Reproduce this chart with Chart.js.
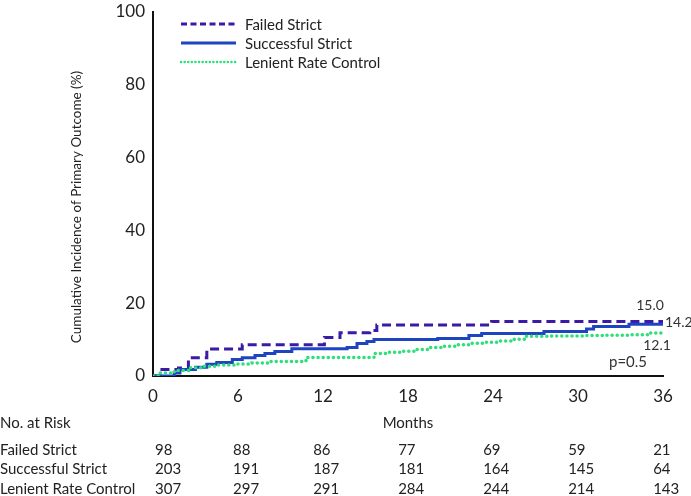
<!DOCTYPE html>
<html>
<head>
<meta charset="utf-8">
<script src="https://cdn.jsdelivr.net/npm/chart.js@4.4.0/dist/chart.umd.min.js"></script>
<style>
  html, body { margin: 0; padding: 0; background: #fff; }
  #wrap { width: 691px; height: 496px; }
</style>
</head>
<body>
<div id="wrap"><canvas id="km" width="691" height="496"></canvas></div>
<script>
"use strict";

// curve data (months, cumulative %)
const failedMonths = [0, 0.5, 1.8, 2.5, 3.8, 6.3, 12.1, 13.2, 15.3, 15.8, 23.9, 36];
const failedPct    = [0, 1.8, 2.2, 5.0, 7.4, 8.6, 10.6, 11.9, 12.5, 14.0, 15.0, 15.0];

const successMonths = [0, 1.5, 1.9, 3.0, 3.8, 4.5, 5.6, 6.3, 7.2, 7.9, 8.6, 9.8, 13.7, 14.4, 15.1, 15.6, 20.1, 22.3, 23.2, 27.6, 30.6, 31.1, 33.6, 36];
const successPct    = [0, 0.8, 1.8, 2.4, 3.2, 3.7, 4.5, 5.0, 5.6, 6.2, 6.7, 7.5, 7.8, 8.9, 9.5, 10.0, 10.3, 11.1, 11.7, 12.2, 12.9, 13.6, 14.2, 14.2];

const lenientMonths = [0, 0.5, 1.5, 2.5, 3.5, 4.5, 6.0, 7.0, 8.2, 10.8, 15.6, 16.5, 17.5, 18.5, 19.5, 20.5, 21.5, 22.5, 23.5, 24.5, 25.5, 26.3, 28.0, 30.6, 32.0, 33.8, 35.0, 36];
const lenientPct    = [0, 0.8, 1.5, 2.3, 2.7, 3.0, 3.3, 3.6, 4.0, 5.1, 6.2, 6.5, 6.8, 7.3, 7.8, 8.2, 8.6, 9.0, 9.3, 9.6, 10.1, 10.9, 11.0, 11.1, 11.2, 11.3, 11.8, 12.1];

const seriesNames = ["Failed Strict", "Successful Strict", "Lenient Rate Control"];
const endLabels = ["15.0", "14.2", "12.1"];
const pValue = "p=0.5";
const yTitle = "Cumulative Incidence of Primary Outcome (%)";

const riskMonths = [0, 6, 12, 18, 24, 30, 36];
const riskFailed  = [98, 88, 86, 77, 69, 59, 21];
const riskSuccess = [203, 191, 187, 181, 164, 145, 64];
const riskLenient = [307, 297, 291, 284, 244, 214, 143];

const colors = ["#3a1aa6", "#1f44c0", "#2fdf7c"];
const dashes = [[9, 5], [], [0.1, 5]];
const caps = ["butt", "butt", "round"];

const FONT = "Lato, 'Open Sans', sans-serif";
const TXT = "#222";

function pts(ms, ps) {
  return ms.map((m, i) => ({ x: m, y: ps[i] }));
}

const curves = [pts(failedMonths, failedPct), pts(successMonths, successPct), pts(lenientMonths, lenientPct)];

const extras = {
  id: "extras",
  afterDraw(chart) {
    const ctx = chart.ctx;
    const xs = chart.scales.x, ys = chart.scales.y;
    ctx.save();

    // y axis title, sits a bit below the middle of the axis in the original
    ctx.save();
    ctx.translate(77, 207);
    ctx.rotate(-Math.PI / 2);
    ctx.font = "13.5px " + FONT;
    ctx.fillStyle = TXT;
    ctx.textAlign = "center";
    ctx.textBaseline = "middle";
    ctx.fillText(yTitle, 0, 0);
    ctx.restore();

    // legend
    const legY = [24, 43, 62];
    ctx.font = "15px " + FONT;
    ctx.textBaseline = "middle";
    ctx.textAlign = "left";
    seriesNames.forEach((name, i) => {
      ctx.beginPath();
      ctx.strokeStyle = colors[i];
      ctx.lineWidth = i == 2 ? 2.5 : 3;
      ctx.lineCap = caps[i];
      ctx.setLineDash(i == 0 ? [6, 3.5] : (i == 2 ? [0.1, 3.5] : []));
      ctx.moveTo(181, legY[i]);
      ctx.lineTo(236, legY[i]);
      ctx.stroke();
      ctx.setLineDash([]);
      ctx.fillStyle = TXT;
      ctx.fillText(name, 245, legY[i] + 1);
    });

    // end-of-curve values and p value
    ctx.font = "14px " + FONT;
    ctx.fillStyle = "#333";
    const xEnd = xs.getPixelForValue(36);
    ctx.textAlign = "center";
    ctx.fillText(endLabels[0], xEnd - 13, ys.getPixelForValue(failedPct[failedPct.length - 1]) - 16);
    ctx.textAlign = "left";
    ctx.fillText(endLabels[1], xEnd + 2, ys.getPixelForValue(successPct[successPct.length - 1]) - 2);
    ctx.textAlign = "center";
    ctx.fillText(endLabels[2], xEnd - 6, ys.getPixelForValue(lenientPct[lenientPct.length - 1]) + 14);
    ctx.font = "15px " + FONT;
    ctx.fillText(pValue, xEnd - 35, ys.getPixelForValue(0) - 14);

    // number at risk table
    ctx.font = "15px " + FONT;
    ctx.fillStyle = TXT;
    ctx.textAlign = "left";
    ctx.fillText("No. at Risk", 0, 423);
    ctx.textAlign = "center";
    ctx.fillText("Months", xs.getPixelForValue(18), 423);

    const rows = [riskFailed, riskSuccess, riskLenient];
    const rowY = [450, 469, 489];
    rows.forEach((row, r) => {
      ctx.textAlign = "left";
      ctx.font = "15px " + FONT;
      ctx.fillText(seriesNames[r], 0, rowY[r]);
      row.forEach((v, i) => {
        const m = riskMonths[i];
        ctx.font = "17px " + FONT;
        const w = ctx.measureText(String(m)).width;
        ctx.font = "15px " + FONT;
        const left = i == 0 ? xs.getPixelForValue(m) + 2 : xs.getPixelForValue(m) - w / 2;
        ctx.fillText(String(v), left, rowY[r]);
      });
    });
    ctx.restore();
  }
};

new Chart(document.getElementById("km"), {
  type: "line",
  data: {
    datasets: curves.map((d, i) => ({
      label: seriesNames[i],
      data: d,
      borderColor: colors[i],
      borderWidth: i == 2 ? 3.5 : 3,
      borderDash: dashes[i],
      borderCapStyle: caps[i],
      stepped: "before",
      pointRadius: 0,
      fill: false,
      order: 3 - i
    }))
  },
  options: {
    responsive: false,
    animation: false,
    devicePixelRatio: 1,
    layout: { padding: { top: 12, right: 28, left: 0, bottom: 0 } },
    plugins: { legend: { display: false }, tooltip: { enabled: false } },
    scales: {
      x: {
        type: "linear",
        min: 0,
        max: 36,
        afterFit: s => { s.height = 120; },
        grid: { color: "transparent", drawTicks: false },
        border: { color: "#111", width: 2 },
        ticks: { stepSize: 6, padding: 10, color: TXT, font: { family: FONT, size: 17 } }
      },
      y: {
        min: 0,
        max: 100,
        afterFit: s => { s.width = 153; s.paddingTop = 0; s.paddingBottom = 0; },
        grid: { color: "transparent", drawTicks: false },
        border: { color: "#111", width: 2 },
        ticks: { stepSize: 20, padding: 8, color: TXT, font: { family: FONT, size: 17 } }
      }
    }
  },
  plugins: [extras]
});
</script>
</body>
</html>
